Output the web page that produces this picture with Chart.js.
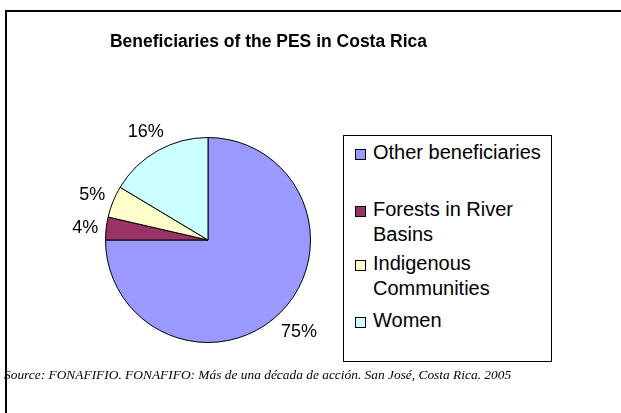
<!DOCTYPE html>
<html>
<head>
<meta charset="utf-8">
<script src="https://cdn.jsdelivr.net/npm/chart.js@4/dist/chart.umd.min.js"></script>
<style>
  html, body { margin:0; padding:0; background:#fff; }
  body { width:621px; height:413px; position:relative; overflow:hidden; font-family:"Liberation Sans", Arial, sans-serif; }
  #frame { position:absolute; left:5px; top:10px; width:700px; height:500px; border:2px solid #000; box-sizing:border-box; }
  #c { position:absolute; left:0; top:0; }
  #title { position:absolute; left:0; width:537px; top:31px; text-align:center; font-weight:bold; font-size:17.5px; line-height:20px; color:#000; white-space:nowrap; }
  #legend { position:absolute; left:343px; top:135px; width:209px; height:227px; border:1px solid #000; box-sizing:border-box; background:#fff; }
  .item { position:absolute; left:0; }
  .sw { position:absolute; left:11px; width:11px; height:11px; border:1px solid #000; box-sizing:border-box; }
  .txt { position:absolute; left:29px; width:178px; font-size:20px; line-height:25px; color:#000; }
  #source { position:absolute; left:4px; top:366px; font-family:"Liberation Serif", "Times New Roman", serif; font-style:italic; font-size:13.4px; line-height:18px; color:#000; white-space:nowrap; }
</style>
</head>
<body>
<div id="frame"></div>
<canvas id="c" width="621" height="413"></canvas>
<div id="title">Beneficiaries of the PES in Costa Rica</div>
<div id="legend"></div>
<div id="source">Source: FONAFIFIO. FONAFIFO: Más de una década de acción. San José, Costa Rica. 2005</div>
<script>
const categories = ['Other beneficiaries', 'Forests in River Basins', 'Indigenous Communities', 'Women'];
const values = [75.0, 3.6, 5.0, 16.4];
const sliceColors = ['#9999FF', '#993366', '#FFFFCC', '#CCFFFF'];
const chartTitle = 'Beneficiaries of the PES in Costa Rica';

// HTML legend built from the arrays
const legendTops = [4, 61, 115, 172];
const legend = document.getElementById('legend');
categories.forEach((name, i) => {
  const it = document.createElement('div');
  it.className = 'item';
  it.style.top = legendTops[i] + 'px';
  const sw = document.createElement('div');
  sw.className = 'sw';
  sw.style.top = '9px';
  sw.style.background = sliceColors[i];
  const tx = document.createElement('div');
  tx.className = 'txt';
  tx.style.top = '0px';
  tx.textContent = name;
  it.appendChild(sw);
  it.appendChild(tx);
  legend.appendChild(it);
});

const pctLabels = {
  id: 'pctLabels',
  afterDatasetsDraw(chart) {
    const meta = chart.getDatasetMeta(0);
    const ctx = chart.ctx;
    const total = values.reduce((a, b) => a + b, 0);
    ctx.save();
    ctx.font = '18px "Liberation Sans", Arial, sans-serif';
    ctx.fillStyle = '#000';
    ctx.textAlign = 'center';
    ctx.textBaseline = 'alphabetic';
    const capH = 12.9;
    meta.data.forEach((arc, i) => {
      const p = arc.getProps(['x', 'y', 'startAngle', 'endAngle', 'outerRadius'], true);
      const mid = (p.startAngle + p.endAngle) / 2;
      const text = Math.round(values[i] / total * 100) + '%';
      const w = ctx.measureText(text).width;
      const c = Math.cos(mid), s = Math.sin(mid);
      const R = p.outerRadius + 7 + Math.abs(c) * w / 2 + Math.abs(s) * 9;
      const cx = p.x + c * R, cy = p.y + s * R;
      ctx.fillText(text, cx, cy + capH / 2);
    });
    ctx.restore();
  }
};

new Chart(document.getElementById('c'), {
  type: 'pie',
  data: {
    labels: categories,
    datasets: [{
      data: values,
      backgroundColor: sliceColors,
      borderColor: '#000',
      borderWidth: 1
    }]
  },
  options: {
    responsive: false,
    animation: false,
    layout: { padding: { left: 105, right: 310, top: 137, bottom: 70 } },
    plugins: {
      legend: { display: false },
      tooltip: { enabled: false },
      title: { display: false, text: chartTitle }
    }
  },
  plugins: [pctLabels]
});
</script>
</body>
</html>
